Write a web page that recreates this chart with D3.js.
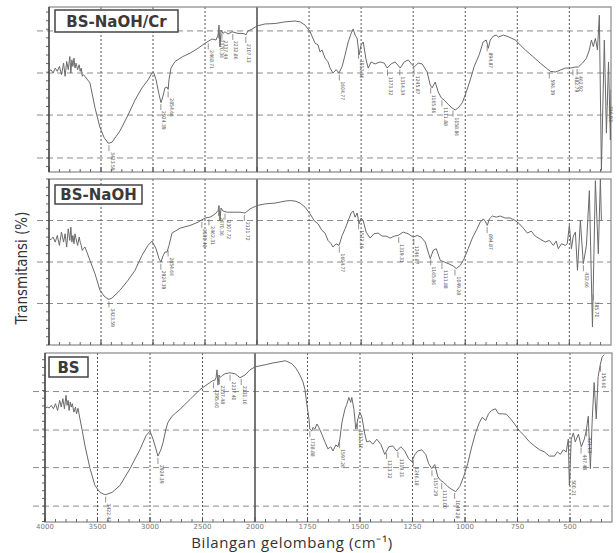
<!DOCTYPE html>
<html>
<head>
<meta charset="utf-8">
<script src="https://cdn.jsdelivr.net/npm/d3@7"></script>
<style>
body { margin: 0; background: #fff; }
</style>
</head>
<body>
<script>
// FTIR spectra: [wavenumber (cm-1), transmittance (% of panel)]
var specCr = [
  [4000,61],[3980,62],[3960,60],[3940,63],[3920,61],[3900,64],[3880,59],[3860,66],[3845,58],[3830,67],[3815,62],[3800,70],
  [3790,60],[3780,68],[3770,64],[3760,69],[3750,63],[3740,66],[3725,62],[3710,65],[3700,61],[3690,63],[3680,58],[3670,59],
  [3655,58],[3606,54],[3558,39],[3510,27],[3471,21],[3433,17.6],[3423,17.5],[3394,18],[3317,25],[3240,34.5],[3173,43.6],
  [3106,51],[3048,55.8],[3010,60],[2995,60.5],[2971,56],[2942,47],[2923,42],[2904,46],[2885,51],[2865,51.5],[2854,50],
  [2846,56],[2827,63],[2788,67],[2712,70],[2644,72],[2567,75],[2500,78],[2433,80.6],[2394,80],[2375,83],[2365,89],
  [2356,75.8],[2346,86],[2327,84],[2308,85],[2279,83.6],[2240,85],[2183,84],[2144,84],[2115,83.6],[2107,83],[2087,85.5],
  [2048,86.6],[2000,88.5],[1962,89.7],[1913,90],[1865,91],[1817,91.5],[1793,91],[1769,89],[1745,85],[1721,78],[1707,77],
  [1697,72.7],[1688,74],[1673,69],[1659,66.7],[1649,63],[1635,60],[1620,62],[1606,60],[1591,64],[1577,71],[1562,78.8],
  [1548,84],[1538,86.7],[1529,83],[1519,81],[1510,71],[1500,77],[1490,78.8],[1476,67.9],[1466,63],[1452,66.7],[1433,65.5],
  [1409,66.7],[1389,66],[1375,63],[1356,65.5],[1337,66.7],[1312,63],[1293,66.7],[1274,67.9],[1245,63.6],[1226,66],
  [1207,65.5],[1183,60.6],[1168,52.7],[1159,51],[1144,54.5],[1130,48.5],[1115,45],[1101,43.6],[1082,41],[1063,38.8],
  [1048,37.6],[1034,38.8],[1014,42],[995,48.5],[976,55.8],[957,64],[933,71],[914,78.8],[899,80],[889,75],[880,80],
  [865,82.4],[851,83],[841,81.8],[817,83],[793,82],[760,80],[736,77],[712,74],[678,70.3],[640,66],[611,63],[591,61],
  [567,60.6],[543,61.8],[519,63],[495,63],[471,63.6],[457,63.6],[437,66],[418,69],[404,74],[394,80],[385,76],[375,81],
  [365,74],[356,95],[346,1],[332,80],[322,23.6],[312,66.7],[303,19.4],[300,50]
];
var specNaOH = [
  [4000,64],[3980,63.5],[3960,65],[3940,62],[3920,66],[3900,60],[3880,68],[3860,62],[3845,67],[3830,59],[3815,70],[3800,63],
  [3790,71],[3780,62],[3770,66],[3760,61],[3750,67],[3740,64],[3725,60],[3710,65],[3700,62],[3690,60],[3680,57],[3670,58],
  [3654,59],[3606,51],[3558,43],[3510,33],[3471,29.5],[3433,27.7],[3423,27.5],[3394,28.3],[3317,33],[3240,39],[3173,45],
  [3106,54],[3048,60],[3010,62.6],[2971,58],[2942,52],[2923,50],[2904,53.6],[2885,56],[2865,56],[2846,60],[2817,67.4],
  [2740,70.4],[2644,72],[2567,74],[2500,76.5],[2452,77],[2423,78],[2394,79.5],[2375,81],[2365,84],[2356,75],[2346,82.5],
  [2327,80.7],[2288,80],[2212,80],[2163,80],[2115,79.5],[2067,82],[2000,84],[1962,85],[1913,85.5],[1865,86.7],[1841,87],
  [1817,86.7],[1793,85.5],[1769,83],[1745,79],[1726,75],[1707,73],[1688,69],[1673,67.4],[1659,63],[1644,61],[1635,59],
  [1620,61],[1606,60],[1591,66],[1577,70],[1562,75],[1548,79.5],[1538,80.7],[1529,77],[1519,79.5],[1510,73],[1500,76.5],
  [1490,75],[1476,68],[1457,64.4],[1438,67],[1418,67.4],[1399,65.6],[1380,65.6],[1360,64.4],[1341,65.6],[1322,66],
  [1298,68],[1274,67],[1250,65],[1231,66],[1212,65],[1192,62],[1178,56],[1168,52],[1154,57],[1139,58],[1120,51],[1101,50],
  [1077,48.8],[1058,47.6],[1043,46],[1024,48],[1005,52],[986,58],[966,64.4],[947,69],[928,74],[913,76],[904,74.6],[894,72],
  [884,76],[870,77.7],[851,77],[832,77.7],[808,76.5],[784,76.5],[760,75],[740,73],[721,70.4],[702,67.4],[683,68.6],
  [664,65.6],[640,63.8],[616,62],[596,63],[577,60],[563,62.6],[553,58],[538,61],[519,60],[510,61],[500,72],[490,58],
  [481,65.6],[471,68],[461,45],[447,75],[433,49],[418,60],[404,93],[389,10.8],[375,99],[361,55],[351,100],[346,75]
];
var specBS = [
  [4000,67],[3980,68],[3960,67.5],[3940,69],[3920,67],[3900,70],[3880,66],[3860,72],[3845,68],[3830,73],[3815,67],[3800,75],
  [3790,69],[3780,72],[3770,66],[3760,71],[3750,68],[3740,70],[3725,65],[3710,68],[3700,64],[3686,67.3],
  [3667,61],[3648,55],[3619,45],[3571,31.6],[3524,21.6],[3476,17.5],[3438,16.4],[3422,16.2],[3362,17.5],[3286,21.6],
  [3190,31.6],[3095,43],[3038,51],[3000,53.8],[2971,49],[2952,45],[2924,39],[2895,43],[2876,47],[2848,55],[2829,59],
  [2790,62.6],[2714,66.7],[2619,72.5],[2524,78.4],[2429,82.5],[2400,83.7],[2381,84],[2371,85.4],[2362,90],[2352,81],
  [2343,87],[2333,85.4],[2314,86.6],[2286,87.7],[2238,88.3],[2190,87.7],[2143,85.4],[2095,87],[2048,90],[2000,91.8],
  [1952,93],[1919,94],[1881,94.8],[1857,95.4],[1843,94.8],[1824,93.6],[1805,91],[1786,87],[1772,83],[1762,78.4],
  [1753,69.6],[1743,61],[1739,55],[1729,53.8],[1724,56],[1715,55],[1705,58],[1696,56],[1682,52],[1667,47.4],[1653,43.3],
  [1639,44.5],[1629,42],[1615,45.6],[1605,44.5],[1596,49],[1586,59],[1572,66.7],[1563,69.6],[1553,73.7],[1544,70.8],
  [1539,73.7],[1529,66.7],[1520,55],[1510,61],[1501,65],[1491,62],[1477,52],[1468,47.4],[1453,48],[1439,46],[1420,49],
  [1401,46],[1382,40],[1363,44.5],[1344,45],[1325,42],[1306,44.5],[1287,42],[1268,37.4],[1254,35.7],[1239,39.8],
  [1225,42],[1206,42.7],[1187,40],[1173,34.5],[1158,31.6],[1144,34],[1130,27],[1116,24.6],[1101,23.4],[1082,21],
  [1063,19.3],[1044,18],[1025,21],[1006,27],[987,34.5],[968,44.5],[949,53],[931,59],[917,62],[902,60],[888,64],[874,66],
  [855,67],[840,64],[822,64],[803,63.8],[783,61],[764,58],[740,53.8],[717,51],[693,47.4],[669,45],[645,42.7],[622,41.5],
  [598,39],[574,39],[560,41.5],[546,40],[532,42.7],[518,41.5],[508,49],[503,21.6],[494,49],[484,52.7],[475,47.4],
  [460,52],[446,44.5],[432,49],[423,53.8],[413,62.6],[403,31.6],[394,61],[385,82.5],[375,61],[366,86],[356,93],
  [347,97.7],[337,99]
];

// labelled peaks
var peaksCr = [3423.59, 2924.39, 2854.66, 2468.71, 2370.36, 2337.44, 2232.86, 2107.13, 1604.77, 1512.16, 1373.32,
  1314.34, 1245.87, 1165.86, 1111.88, 1058.86, 894.87, 596.39, 482.79, 462.92, 316.93];
var peaksNaOH = [3423.59, 2924.39, 2854.66, 2530.48, 2462.31, 2370.36, 2307.72, 2121.72, 1604.77, 1512.16, 1319.31,
  1246.87, 1165.86, 1111.88, 1049.28, 894.87, 432.66, 385.70];
var peaksBS = [3422.42, 2924.39, 2395.60, 2337.48, 2237.40, 2131.16, 1738.88, 1597.26, 1512.16, 1373.32, 1319.31,
  1246.18, 1157.29, 1111.00, 1049.28, 500.21, 447.48, 421.13, 354.60];

var xTicks = [4000, 3500, 3000, 2500, 2000, 1750, 1500, 1250, 1000, 750, 500];
var xMinor = d3.range(4000, 2000, -100).concat(d3.range(2000, 300, -50));

var width = 616, height = 553;

var panels = [
  {name: "BS-NaOH/Cr", data: specCr, peaks: peaksCr, top: 7, bottom: 172, xr: [49, 257, 611], grid: [8.5, 34.5, 60, 85.5], box: [55, 10, 123, 22]},
  {name: "BS-NaOH", data: specNaOH, peaks: peaksNaOH, top: 179, bottom: 345, xr: [49, 257, 611], grid: [25, 50, 75], box: [55, 185, 87, 19]},
  {name: "BS", data: specBS, peaks: peaksBS, top: 353, bottom: 522, xr: [45, 255, 612], grid: [9.4, 32.2, 54.4, 77.2], box: [49, 357, 39, 20]}
];

var svg = d3.select("body").append("svg")
    .attr("width", width)
    .attr("height", height)
    .style("font-family", "'DejaVu Sans', sans-serif");

var defs = svg.append("defs");

// value of a spectrum at a given wavenumber (data sorted descending)
function valueAt(data, wn) {
    for (var i = 0; i < data.length - 1; i++) {
        var a = data[i], b = data[i + 1];
        if (wn <= a[0] && wn >= b[0]) {
            var t = (a[0] - wn) / (a[0] - b[0]);
            return a[1] + t * (b[1] - a[1]);
        }
    }
    return data[data.length - 1][1];
}

panels.forEach(function (p, i) {
    var x = d3.scaleLinear().domain([4000, 2000, 300]).range(p.xr);
    var y = d3.scaleLinear().domain([0, 100]).range([p.bottom, p.top]);
    var g = svg.append("g").attr("class", "panel");

    defs.append("clipPath").attr("id", "clip" + i)
        .append("rect")
        .attr("x", p.xr[0]).attr("y", p.top)
        .attr("width", p.xr[2] - p.xr[0]).attr("height", p.bottom - p.top);

    // horizontal dashed grid
    g.selectAll(".hgrid").data(p.grid).enter().append("line")
        .attr("x1", p.xr[0] - 12).attr("x2", p.xr[2])
        .attr("y1", y).attr("y2", y)
        .attr("stroke", "#8c8c8c").attr("stroke-width", 1)
        .attr("stroke-dasharray", "6,4");

    // vertical grid, solid at the scale break
    g.selectAll(".vgrid").data(xTicks.slice(1)).enter().append("line")
        .attr("x1", x).attr("x2", x)
        .attr("y1", p.top).attr("y2", p.bottom)
        .attr("stroke", "#555")
        .attr("stroke-width", function (d) { return d === 2000 ? 1.6 : 1; })
        .attr("stroke-dasharray", function (d) { return d === 2000 ? null : "2,2"; });

    // frame
    g.append("rect")
        .attr("x", p.xr[0]).attr("y", p.top)
        .attr("width", p.xr[2] - p.xr[0]).attr("height", p.bottom - p.top)
        .attr("fill", "none").attr("stroke", "#888").attr("stroke-width", 1.2);

    // bottom ticks (pointing in)
    g.selectAll(".xminor").data(xMinor).enter().append("line")
        .attr("x1", x).attr("x2", x)
        .attr("y1", p.bottom).attr("y2", p.bottom - 3)
        .attr("stroke", "#666");
    g.selectAll(".xmajor").data(xTicks).enter().append("line")
        .attr("x1", x).attr("x2", x)
        .attr("y1", p.bottom).attr("y2", p.bottom - 5)
        .attr("stroke", "#555");

    // left ticks (pointing out)
    var step = (p.grid[1] - p.grid[0]) / 5;
    var yMinor = [];
    for (var v = p.grid[0]; v >= 0; v -= step) yMinor.push(v);
    for (var v2 = p.grid[0] + step; v2 <= 100; v2 += step) yMinor.push(v2);
    g.selectAll(".yminor").data(yMinor).enter().append("line")
        .attr("x1", p.xr[0] - 3).attr("x2", p.xr[0])
        .attr("y1", y).attr("y2", y)
        .attr("stroke", "#666");
    g.append("line")
        .attr("x1", p.xr[0]).attr("x2", p.xr[0])
        .attr("y1", p.top).attr("y2", p.bottom)
        .attr("stroke", "#444").attr("stroke-width", 1.4);

    // spectrum
    var line = d3.line()
        .x(function (d) { return x(d[0]); })
        .y(function (d) { return y(d[1]); });
    g.append("path")
        .datum(p.data)
        .attr("clip-path", "url(#clip" + i + ")")
        .attr("fill", "none")
        .attr("stroke", "#6a6a6a")
        .attr("stroke-width", 1)
        .attr("stroke-linejoin", "round")
        .attr("d", line);

    // peak labels
    var pk = g.selectAll(".peak").data(p.peaks).enter().append("g")
        .attr("transform", function (d) {
            return "translate(" + x(d) + "," + (y(valueAt(p.data, d)) + 2) + ")";
        });
    pk.append("line")
        .attr("y1", 0).attr("y2", 6)
        .attr("stroke", "#666").attr("stroke-width", 0.7);
    pk.append("text")
        .attr("transform", "translate(1.6,7) rotate(90)")
        .attr("font-family", "'Liberation Sans Narrow', 'DejaVu Sans Condensed', sans-serif")
        .attr("font-size", 5)
        .attr("fill", "#555")
        .text(function (d) { return d.toFixed(2); });

    // sample name box
    g.append("rect")
        .attr("x", p.box[0]).attr("y", p.box[1])
        .attr("width", p.box[2]).attr("height", p.box[3])
        .attr("fill", "#fff").attr("stroke", "#444").attr("stroke-width", 1.5);
    g.append("text")
        .attr("x", p.box[0] + p.box[2] / 2).attr("y", p.box[1] + p.box[3] / 2 + 5.5)
        .attr("text-anchor", "middle")
        .attr("font-size", 15).attr("font-weight", "bold")
        .attr("fill", "#3a3a3a")
        .text(p.name);

    // tick labels on the last panel only
    if (i === panels.length - 1) {
        g.selectAll(".xlab").data(xTicks).enter().append("text")
            .attr("x", x).attr("y", p.bottom + 7)
            .attr("text-anchor", "middle")
            .attr("font-size", 7)
            .attr("fill", "#777")
            .text(function (d) { return d; });
    }
});

// axis titles
svg.append("text")
    .attr("transform", "translate(27,268) rotate(-90)")
    .attr("text-anchor", "middle")
    .attr("font-family", "'Liberation Sans Narrow', 'DejaVu Sans Condensed', sans-serif")
    .attr("font-size", 15)
    .attr("fill", "#333")
    .text("Transmitansi (%)");

svg.append("text")
    .attr("x", 292).attr("y", 548)
    .attr("text-anchor", "middle")
    .attr("font-family", "'Open Sans', sans-serif")
    .attr("font-size", 15)
    .attr("letter-spacing", 0.6)
    .attr("fill", "#333")
    .text("Bilangan gelombang  (cm\u207B\u00B9)");
</script>
</body>
</html>
